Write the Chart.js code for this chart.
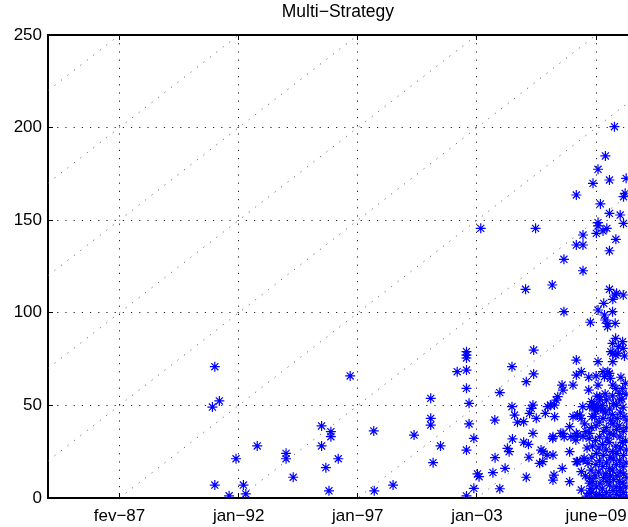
<!DOCTYPE html>
<html><head><meta charset="utf-8">
<script src="https://cdn.jsdelivr.net/npm/chart.js@4.4.0/dist/chart.umd.min.js"></script>
<style>html,body{margin:0;padding:0;background:#fff;overflow:hidden;width:628px;height:527px}canvas{display:block}</style>
</head><body>
<canvas id="c" width="634" height="527"></canvas>
<script>
const chartTitle = 'Multi−Strategy';
const xTickValues = [50, 100, 150, 200, 250];
const xTickLabels = ['fev−87', 'jan−92', 'jan−97', 'jan−03', 'june−09'];
const yTickValues = [0, 50, 100, 150, 200, 250];
const diagonalOffsets = [200, 150, 100, 50, 0, -50, -100, -150, -200, -250];

// month index of each fund (x) and its value (y)
const fundMonth = [
  90.0, 91.9, 89.0, 90.0, 96.0, 102.0, 103.0, 98.9, 107.8, 119.9,
  119.9, 122.9, 134.8, 138.7, 138.7, 134.8, 141.8, 136.6, 137.9, 146.8,
  156.7, 156.9, 164.8, 173.6, 180.6, 180.6, 180.6, 181.6, 184.7, 191.7,
  195.6, 195.6, 195.6, 195.6, 195.6, 196.7, 196.7, 198.7, 195.6, 200.2,
  200.9, 198.7, 195.6, 201.6, 206.7, 207.5, 207.6, 209.6, 209.6, 211.8,
  212.8, 213.5, 214.7, 214.7, 214.9, 215.8, 217.0, 219.6, 219.6, 220.4,
  220.7, 220.7, 221.6, 221.8, 222.1, 222.8, 223.5, 223.8, 223.8, 223.5,
  224.9, 224.6, 226.3, 227.7, 228.7, 229.4, 230.8, 231.6, 231.9, 231.9,
  232.3, 231.9, 232.6, 233.3, 233.9, 235.7, 236.1, 235.8, 236.1, 236.5,
  236.5, 238.9, 238.9, 238.9, 240.3, 240.3, 241.7, 241.7, 241.7, 241.7,
  241.7, 241.7, 243.1, 243.8, 243.8, 243.8, 244.5, 244.5, 244.5, 244.5,
  244.5, 246.6, 246.9, 247.3, 247.3, 247.6, 248.7, 249.0, 249.4, 250.1,
  250.8, 250.8, 250.8, 250.8, 250.8, 250.8, 251.8, 252.9, 252.9, 252.9,
  253.2, 253.5, 253.8, 253.9, 254.5, 254.8, 254.9, 255.6, 255.6, 255.6,
  255.6, 255.6, 256.9, 257.0, 257.0, 257.0, 257.7, 257.9, 258.0, 258.3,
  258.6, 259.4, 260.1, 261.4, 261.5, 261.5, 262.2, 262.6, 229.7, 232.5,
  231.8, 235.2, 236.6, 239.4, 242.2, 241.5, 245.7, 247.1, 226.9, 227.6,
  242.2, 245.0, 243.7, 242.2, 244.4, 249.2, 250.6, 247.3, 247.3, 247.8,
  247.3, 261.1, 256.9, 261.4, 256.2, 258.3, 259.1, 261.9, 246.9, 250.0,
  254.9, 253.5, 256.0, 260.4, 253.8, 258.3, 259.7, 256.9, 261.1, 258.2,
  262.3, 260.8, 257.0, 251.5, 245.5, 246.2, 245.2, 246.0,
  248.1, 248.4, 247.9, 248.2, 248.5, 248.0, 248.3, 248.1,
  249.8, 250.1, 249.6, 249.9, 250.2, 249.7, 250.0, 249.8, 250.3,
  251.3, 251.6, 251.1, 251.4, 251.2, 251.5, 251.3, 251.0, 251.6,
  252.9, 252.6, 253.1, 252.8, 253.0, 252.7, 253.2, 252.9, 252.7,
  254.3, 254.5, 254.1, 254.4, 254.2, 254.6, 254.3, 254.0, 254.4,
  255.8, 255.6, 256.0, 255.7, 255.9, 255.5, 255.8, 256.1, 255.7,
  257.1, 257.3, 256.9, 257.2, 257.0, 257.4, 257.1, 256.8, 257.3,
  258.6, 258.4, 258.8, 258.5, 258.7, 258.3, 258.6, 258.9, 258.5,
  260.0, 260.2, 259.8, 260.1, 259.9, 260.3, 260.0, 259.7, 260.2, 260.0,
  261.4, 261.2, 261.6, 261.3, 261.5, 261.1, 261.4, 261.7, 261.3,
  262.7, 262.5, 262.9, 262.6, 262.8, 262.4, 262.7, 263.0, 262.6
];
const fundValue = [
  70.9, 52.4, 49.1, 7.0, 1.2, 7.0, 2.2, 21.2, 28.1, 24.1,
  21.2, 11.2, 38.9, 35.8, 33.1, 28.1, 21.2, 16.4, 3.9, 65.9,
  36.2, 3.9, 7.0, 34.0, 53.8, 43.0, 39.4, 19.1, 28.1, 68.2,
  79.0, 77.2, 75.6, 69.1, 59.2, 51.1, 40.0, 32.2, 25.9, 13.0,
  11.5, 5.2, 1.1, 145.6, 13.7, 42.1, 21.8, 56.9, 5.0, 16.0,
  26.8, 25.0, 70.9, 49.3, 31.9, 44.8, 40.9, 41.2, 30.1, 112.7,
  62.8, 11.2, 29.0, 22.0, 45.7, 48.4, 34.9, 79.9, 67.0, 50.2,
  43.0, 145.6, 18.7, 25.0, 45.7, 23.2, 50.2, 115.0, 23.2, 33.1,
  12.4, 9.7, 43.9, 52.9, 54.7, 61.0, 58.3, 16.0, 34.9, 128.9,
  100.6, 38.5, 25.0, 8.8, 61.0, 43.9, 163.6, 136.6, 74.5, 66.4,
  34.9, 19.6, 44.8, 68.2, 14.2, 4.3, 142.0, 136.6, 122.7, 33.1,
  20.5, 18.7, 58.3, 49.3, 34.9, 94.9, 169.9, 49.3, 43.9, 142.9,
  177.5, 148.7, 146.9, 101.5, 73.6, 61.0, 158.8, 144.2, 68.2, 47.5,
  105.1, 98.8, 96.1, 184.7, 145.6, 92.5, 94.3, 171.7, 153.7, 133.5,
  112.7, 67.3, 100.6, 107.3, 78.1, 73.6, 200.5, 109.6, 94.3, 139.7,
  110.5, 81.7, 152.8, 109.6, 162.7, 148.3, 164.5, 172.6, 49.3, 50.2,
  32.2, 34.9, 33.1, 33.1, 34.0, 31.3, 35.8, 32.2, 25.9, 19.6,
  19.6, 21.4, 43.0, 44.8, 49.3, 50.2, 48.4, 10.6, 8.0, 5.2,
  2.5, 84.4, 83.5, 80.8, 79.0, 77.2, 78.1, 76.7, 65.2, 65.9,
  68.2, 65.5, 64.6, 65.2, 56.2, 59.2, 56.5, 55.1, 59.2, 86.2,
  61.9, 53.5, 61.0, 54.7, 12.0, 27.0, 40.0, 1.0,
  3, 9, 15, 22, 28, 38, 44, 52,
  1, 6, 12, 18, 24, 31, 39, 47, 55,
  2, 8, 14, 20, 27, 33, 41, 49, 53,
  0.5, 5, 11, 17, 23, 29, 36, 43, 50,
  3, 9, 13, 19, 26, 32, 38, 46, 53,
  1, 7, 12, 16, 22, 30, 35, 42, 48,
  4, 10, 15, 21, 25, 34, 40, 45, 51,
  2, 6, 12, 18, 24, 28, 37, 43, 50,
  0.5, 5, 9, 14, 20, 27, 33, 39, 46, 53,
  3, 8, 13, 17, 23, 30, 36, 44, 49,
  1, 6, 11, 19, 26, 31, 38, 42, 56
];

const X_MIN = 20, X_MAX = 263.3, Y_MIN = 0, Y_MAX = 250;
const FONT = "'Liberation Sans', Arial, Helvetica, sans-serif";

const points = fundMonth.map((x, i) => ({ x: x, y: fundValue[i] }));
const diagSets = diagonalOffsets.map(off => ({
  type: 'scatter', showLine: true,
  data: [{ x: X_MIN, y: X_MIN + off }, { x: X_MAX, y: X_MAX + off }],
  borderColor: 'rgba(80,80,80,0.85)', borderWidth: 1, borderDash: [1.2, 7],
  pointRadius: 0, pointHoverRadius: 0, order: 2
}));

const setXTicks = s => { s.ticks = xTickValues.map(v => ({ value: v })); };

new Chart(document.getElementById('c'), {
  type: 'scatter',
  data: {
    datasets: [{
      data: points,
      pointStyle: 'star',
      pointRadius: 5,
      pointHoverRadius: 5,
      pointBorderWidth: 1.2,
      borderColor: 'rgb(0,0,255)',
      backgroundColor: 'rgb(0,0,255)',
      order: 1
    }].concat(diagSets)
  },
  options: {
    responsive: false,
    animation: false,
    devicePixelRatio: 1,
    events: [],
    layout: { padding: 0 },
    plugins: {
      legend: { display: false },
      tooltip: { enabled: false },
      title: {
        display: true, text: chartTitle, fullSize: false, color: '#000',
        font: { family: FONT, size: 17.5, weight: 'normal' },
        padding: { top: 2, bottom: 12 }
      }
    },
    scales: {
      x: {
        type: 'linear', position: 'bottom', min: X_MIN, max: X_MAX,
        afterBuildTicks: setXTicks,
        afterFit: s => { s.height = 29; s.paddingLeft = 0; s.paddingRight = 0; },
        ticks: {
          callback: (v, i) => xTickLabels[i],
          color: '#000', font: { family: FONT, size: 17 }, padding: 13,
          maxRotation: 0, autoSkip: false
        },
        grid: { color: '#222', lineWidth: 1, tickLength: -5, tickColor: '#000', tickWidth: 1, tickBorderDash: [] },
        border: { color: '#000', width: 2, dash: [1.2, 7] }
      },
      x2: {
        type: 'linear', position: 'top', min: X_MIN, max: X_MAX,
        afterBuildTicks: setXTicks,
        afterFit: s => { s.height = 0; s.paddingLeft = 0; s.paddingRight = 0; },
        ticks: { display: false },
        grid: { drawOnChartArea: false, tickLength: -5, tickColor: '#000', tickWidth: 1 },
        border: { color: '#000', width: 2 }
      },
      y: {
        type: 'linear', position: 'left', min: Y_MIN, max: Y_MAX,
        afterBuildTicks: s => { s.ticks = yTickValues.map(v => ({ value: v })); },
        afterFit: s => { s.width = 48; s.paddingTop = 0; s.paddingBottom = 0; },
        ticks: { color: '#000', font: { family: FONT, size: 17 }, padding: 11 },
        grid: { color: '#222', lineWidth: 1, tickLength: -5, tickColor: '#000', tickWidth: 1, tickBorderDash: [] },
        border: { color: '#000', width: 2, dash: [1.2, 7] }
      }
    }
  }
});
</script>
</body></html>
